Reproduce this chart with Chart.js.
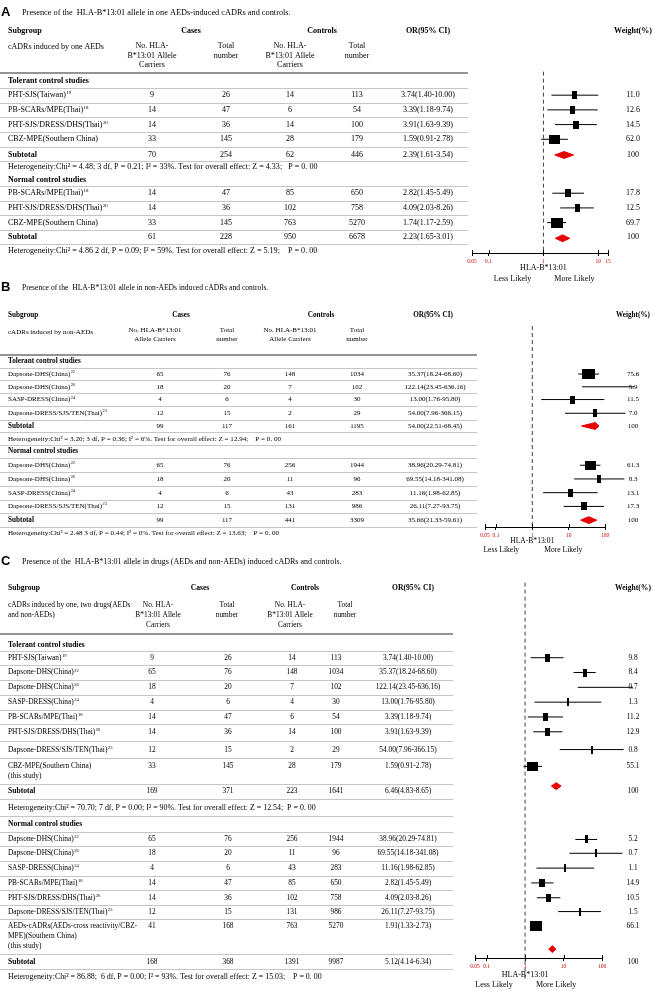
<!DOCTYPE html>
<html>
<head>
<meta charset="utf-8">
<script src="https://cdn.jsdelivr.net/npm/chart.js@4.4.1/dist/chart.umd.min.js"></script>
<style>
  body { margin: 0; background: #fff; }
  #wrap { position: relative; width: 653px; height: 991px; }
  canvas { position: absolute; left: 0; }
</style>
</head>
<body>
<div id="wrap">
  <canvas id="chartA" width="653" height="290" style="top:0px"></canvas>
  <canvas id="chartB" width="653" height="285" style="top:272px"></canvas>
  <canvas id="chartC" width="653" height="443" style="top:548px"></canvas>
</div>
<script>
// ---------- data ----------
const tickA = [0.05, 0.1, 1, 10, 15];
const tickBC = [0.05, 0.1, 1, 10, 100];

// A: one AEDs, tolerant controls
const aTolNames = ['PHT-SJS(Taiwan)', 'PB-SCARs/MPE(Thai)', 'PHT-SJS/DRESS/DHS(Thai)', 'CBZ-MPE(Southern China)'];
const aTolRefs = ['19', '18', '20', ''];
const aTolCases = [9, 14, 14, 33];
const aTolCasesTotal = [26, 47, 36, 145];
const aTolControls = [14, 6, 14, 28];
const aTolControlsTotal = [113, 54, 100, 179];
const aTolOR = [3.74, 3.39, 3.91, 1.59];
const aTolLow = [1.40, 1.18, 1.63, 0.91];
const aTolHigh = [10.00, 9.74, 9.39, 2.78];
const aTolWeight = [11.0, 12.6, 14.5, 62.0];
const aTolSubCounts = [70, 254, 62, 446];
const aTolSubOR = [2.39, 1.61, 3.54];
const aTolHet = 'Heterogeneity:Chi² = 4.48; 3 df, P = 0.21; I² = 33%. Test for overall effect: Z = 4.33;   P = 0. 00';

// A: one AEDs, normal controls
const aNorNames = ['PB-SCARs/MPE(Thai)', 'PHT-SJS/DRESS/DHS(Thai)', 'CBZ-MPE(Southern China)'];
const aNorRefs = ['18', '20', ''];
const aNorCases = [14, 14, 33];
const aNorCasesTotal = [47, 36, 145];
const aNorControls = [85, 102, 763];
const aNorControlsTotal = [650, 758, 5270];
const aNorOR = [2.82, 4.09, 1.74];
const aNorLow = [1.45, 2.03, 1.17];
const aNorHigh = [5.49, 8.26, 2.59];
const aNorWeight = [17.8, 12.5, 69.7];
const aNorSubCounts = [61, 228, 950, 6678];
const aNorSubOR = [2.23, 1.65, 3.01];
const aNorHet = 'Heterogeneity:Chi² = 4.86 2 df, P = 0.09; I² = 59%. Test for overall effect: Z = 5.19;    P = 0. 00';

// B: non-AEDs, tolerant controls
const bTolNames = ['Dapsone-DHS(China)', 'Dapsone-DHS(China)', 'SASP-DRESS(China)', 'Dapsone-DRESS/SJS/TEN(Thai)'];
const bTolRefs = ['22', '26', '24', '23'];
const bTolCases = [65, 18, 4, 12];
const bTolCasesTotal = [76, 20, 6, 15];
const bTolControls = [148, 7, 4, 2];
const bTolControlsTotal = [1034, 102, 30, 29];
const bTolOR = [35.37, 122.14, 13.00, 54.00];
const bTolLow = [18.24, 23.45, 1.76, 7.96];
const bTolHigh = [68.60, 636.16, 95.80, 366.15];
const bTolWeight = [75.6, 5.9, 11.5, 7.0];
const bTolSubCounts = [99, 117, 161, 1195];
const bTolSubOR = [54.00, 22.51, 68.45];
const bTolHet = 'Heterogeneity:Chi² = 3.20; 3 df, P = 0.36; I² = 6%. Test for overall effect: Z = 12.94;    P = 0. 00';

// B: non-AEDs, normal controls
const bNorNames = ['Dapsone-DHS(China)', 'Dapsone-DHS(China)', 'SASP-DRESS(China)', 'Dapsone-DRESS/SJS/TEN(Thai)'];
const bNorRefs = ['22', '26', '24', '23'];
const bNorCases = [65, 18, 4, 12];
const bNorCasesTotal = [76, 20, 6, 15];
const bNorControls = [256, 11, 43, 131];
const bNorControlsTotal = [1944, 96, 283, 986];
const bNorOR = [38.96, 69.55, 11.16, 26.11];
const bNorLow = [20.29, 14.18, 1.98, 7.27];
const bNorHigh = [74.81, 341.08, 62.85, 93.75];
const bNorWeight = [61.3, 8.3, 13.1, 17.3];
const bNorSubCounts = [99, 117, 441, 3309];
const bNorSubOR = [35.66, 21.33, 59.61];
const bNorHet = 'Heterogeneity:Chi² = 2.48 3 df, P = 0.44; I² = 0%. Test for overall effect: Z = 13.63;    P = 0. 00';

// C: all drugs, tolerant controls
const cTolNames = ['PHT-SJS(Taiwan)', 'Dapsone-DHS(China)', 'Dapsone-DHS(China)', 'SASP-DRESS(China)', 'PB-SCARs/MPE(Thai)',
  'PHT-SJS/DRESS/DHS(Thai)', 'Dapsone-DRESS/SJS/TEN(Thai)', 'CBZ-MPE(Southern China)\n(this study)'];
const cTolRefs = ['19', '22', '26', '24', '18', '20', '23', ''];
const cTolCases = [9, 65, 18, 4, 14, 14, 12, 33];
const cTolCasesTotal = [26, 76, 20, 6, 47, 36, 15, 145];
const cTolControls = [14, 148, 7, 4, 6, 14, 2, 28];
const cTolControlsTotal = [113, 1034, 102, 30, 54, 100, 29, 179];
const cTolOR = [3.74, 35.37, 122.14, 13.00, 3.39, 3.91, 54.00, 1.59];
const cTolLow = [1.40, 18.24, 23.45, 1.76, 1.18, 1.63, 7.96, 0.91];
const cTolHigh = [10.00, 68.60, 636.16, 95.80, 9.74, 9.39, 366.15, 2.78];
const cTolWeight = [9.8, 8.4, 0.7, 1.3, 11.2, 12.9, 0.8, 55.1];
const cTolSubCounts = [169, 371, 223, 1641];
const cTolSubOR = [6.46, 4.83, 8.65];
const cTolHet = 'Heterogeneity:Chi² = 70.70; 7 df, P = 0.00; I² = 90%. Test for overall effect: Z = 12.54;  P = 0. 00';

// C: all drugs, normal controls
const cNorNames = ['Dapsone-DHS(China)', 'Dapsone-DHS(China)', 'SASP-DRESS(China)', 'PB-SCARs/MPE(Thai)',
  'PHT-SJS/DRESS/DHS(Thai)', 'Dapsone-DRESS/SJS/TEN(Thai)', 'AEDs-cADRs(AEDs-cross reactivity/CBZ-\nMPE)(Southern China)\n(this study)'];
const cNorRefs = ['22', '26', '24', '18', '20', '23', ''];
const cNorCases = [65, 18, 4, 14, 14, 12, 41];
const cNorCasesTotal = [76, 20, 6, 47, 36, 15, 168];
const cNorControls = [256, 11, 43, 85, 102, 131, 763];
const cNorControlsTotal = [1944, 96, 283, 650, 758, 986, 5270];
const cNorOR = [38.96, 69.55, 11.16, 2.82, 4.09, 26.11, 1.91];
const cNorLow = [20.29, 14.18, 1.98, 1.45, 2.03, 7.27, 1.33];
const cNorHigh = [74.81, 341.08, 62.85, 5.49, 8.26, 93.75, 2.73];
const cNorWeight = [5.2, 0.7, 1.1, 14.9, 10.5, 1.5, 66.1];
const cNorSubCounts = [168, 368, 1391, 9987];
const cNorSubOR = [5.12, 4.14, 6.34];
const cNorHet = 'Heterogeneity:Chi² = 86.88;  6 df, P = 0.00; I² = 93%. Test for overall effect: Z = 15.03;    P = 0. 00';

function group(heading, names, refs, cases, casesTotal, controls, controlsTotal, or, low, high, weight, subCounts, subOR, het) {
  return { heading, names, refs, counts: [cases, casesTotal, controls, controlsTotal], or, low, high, weight, subCounts, subOR, het };
}
const TOL = 'Tolerant control studies', NOR = 'Normal control studies';
const groupsA = [
  group(TOL, aTolNames, aTolRefs, aTolCases, aTolCasesTotal, aTolControls, aTolControlsTotal, aTolOR, aTolLow, aTolHigh, aTolWeight, aTolSubCounts, aTolSubOR, aTolHet),
  group(NOR, aNorNames, aNorRefs, aNorCases, aNorCasesTotal, aNorControls, aNorControlsTotal, aNorOR, aNorLow, aNorHigh, aNorWeight, aNorSubCounts, aNorSubOR, aNorHet)
];
const groupsB = [
  group(TOL, bTolNames, bTolRefs, bTolCases, bTolCasesTotal, bTolControls, bTolControlsTotal, bTolOR, bTolLow, bTolHigh, bTolWeight, bTolSubCounts, bTolSubOR, bTolHet),
  group(NOR, bNorNames, bNorRefs, bNorCases, bNorCasesTotal, bNorControls, bNorControlsTotal, bNorOR, bNorLow, bNorHigh, bNorWeight, bNorSubCounts, bNorSubOR, bNorHet)
];
const groupsC = [
  group(TOL, cTolNames, cTolRefs, cTolCases, cTolCasesTotal, cTolControls, cTolControlsTotal, cTolOR, cTolLow, cTolHigh, cTolWeight, cTolSubCounts, cTolSubOR, cTolHet),
  group(NOR, cNorNames, cNorRefs, cNorCases, cNorCasesTotal, cNorControls, cNorControlsTotal, cNorOR, cNorLow, cNorHigh, cNorWeight, cNorSubCounts, cNorSubOR, cNorHet)
];

// ---------- layout (page pixel coordinates) ----------
const SERIF = '"Liberation Serif", "Times New Roman", serif';
const SANS = '"Liberation Sans", Arial, sans-serif';
const W = 653;
const NOHLA3 = ['No. HLA-', 'B*13:01 Allele', 'Carriers'];
const TOTAL = ['Total', 'number'];

const layoutA = {
  top: 0, height: 290, letter: 'A', titleY: 8, titleSize: 8.3,
  title: 'Presence of the  HLA-B*13:01 allele in one AEDs-induced cADRs and controls.',
  fs: 8, bs: 8, hs: 8.1, lh: 10, capSize: 8,
  headY: 26,
  head1: [['Subgroup', 8, 'left'], ['Cases', 191, 'center'], ['Controls', 322, 'center'], ['OR(95% CI)', 428, 'center'], ['Weight(%)', 633, 'center']],
  head2: [[['cADRs induced by one AEDs'], 8, 'left', 43], [NOHLA3, 152, 'center', 42], [TOTAL, 226, 'center', 42], [NOHLA3, 290, 'center', 42], [TOTAL, 357, 'center', 42]],
  head2lh: 9.5, headLineY: 69, lineEnd: 468, hetLines: false,
  cols: [152, 226, 290, 357], orX: 428, wX: 633,
  rowY: [77, 92, 107, 122, 137, 153, 165, 178, 192, 207, 222, 237, 251],
  diamondY: [153, 238], diamondH: 3.5,
  axisY: 253, dash: [68, 253], xLeft: 472, xRight: 608, xMax: 15, ticks: tickA,
  hlaY: 268, likelyY: 279
};
const layoutB = {
  top: 272, height: 285, letter: 'B', titleY: 283, titleSize: 7.6,
  title: 'Presence of the  HLA-B*13:01 allele in non-AEDs induced cADRs and controls.',
  fs: 7, bs: 7.2, hs: 7.1, lh: 9, capSize: 7.6,
  headY: 311,
  head1: [['Subgroup', 8, 'left'], ['Cases', 181, 'center'], ['Controls', 321, 'center'], ['OR(95% CI)', 433, 'center'], ['Weight(%)', 633, 'center']],
  head2: [[['cADRs induced by non-AEDs'], 8, 'left', 328], [['No. HLA-B*13:01', 'Allele Carriers'], 155, 'center', 326], [TOTAL, 227, 'center', 326],
    [['No. HLA-B*13:01', 'Allele Carriers'], 290, 'center', 326], [TOTAL, 357, 'center', 326]],
  head2lh: 9, headLineY: 352, lineEnd: 477, hetLines: true,
  cols: [160, 227, 290, 357], orX: 435, wX: 633,
  rowY: [358, 371, 384, 397, 411, 424, 437, 450, 464, 478, 492, 506, 520, 533],
  diamondY: [424, 520], diamondH: 3.5,
  axisY: 527, dash: [322, 527], xLeft: 485, xRight: 605, xMax: 100, ticks: tickBC,
  hlaY: 541, likelyY: 550
};
const layoutC = {
  top: 548, height: 443, letter: 'C', titleY: 557, titleSize: 8,
  title: 'Presence of the  HLA-B*13:01 allele in drugs (AEDs and non-AEDs) induced cADRs and controls.',
  fs: 7.4, bs: 7.6, hs: 7.9, lh: 10, capSize: 8,
  headY: 583,
  head1: [['Subgroup', 8, 'left'], ['Cases', 200, 'center'], ['Controls', 305, 'center'], ['OR(95% CI)', 413, 'center'], ['Weight(%)', 633, 'center']],
  head2: [[['cADRs induced by one, two drugs(AEDs', 'and non-AEDs)'], 8, 'left', 601], [NOHLA3, 158, 'center', 601], [TOTAL, 227, 'center', 601],
    [NOHLA3, 290, 'center', 601], [TOTAL, 345, 'center', 601]],
  head2lh: 10, headLineY: 630, lineEnd: 453, hetLines: true,
  cols: [152, 228, 292, 336], orX: 408, wX: 633,
  rowY: [641, 654, 669, 684, 699, 714, 729, 747, 764, 789, 806, 822, 838, 852, 867, 882, 897, 911, 926, 962, 977],
  diamondY: [784, 949], diamondH: 3.5,
  axisY: 958, dash: [578, 980], xLeft: 475, xRight: 602, xMax: 100, ticks: tickBC,
  hlaY: 975, likelyY: 985
};

// ---------- drawing ----------
function box(weight) {
  const c = document.createElement('canvas');
  c.width = Math.max(2, Math.round(1.45 * Math.sqrt(weight)));
  c.height = Math.max(8, Math.round(1.2 * Math.sqrt(weight)));
  const g = c.getContext('2d');
  g.fillStyle = '#000';
  g.fillRect(0, 0, c.width, c.height);
  return c;
}

function orText(or, lo, hi) {
  return or.toFixed(2) + '(' + lo.toFixed(2) + '-' + hi.toFixed(2) + ')';
}

function drawTable(chart, L, rows) {
  const ctx = chart.ctx, xs = chart.scales.x, ys = chart.scales.y;
  const Y = v => ys.getPixelForValue(v);
  const font = (size, bold, fam) => (bold ? 'bold ' : '') + size + 'px ' + (fam || SERIF);
  const text = (s, x, y, align) => { ctx.textAlign = align || 'left'; ctx.fillText(s, x, Y(y)); };
  const hline = (x0, x1, py) => { ctx.beginPath(); ctx.moveTo(x0, py); ctx.lineTo(x1, py); ctx.stroke(); };

  ctx.save();
  ctx.fillStyle = '#000';
  ctx.textBaseline = 'middle';

  ctx.font = font(13, true, SANS);
  text(L.letter, 1, L.titleY);
  ctx.font = font(L.titleSize);
  text(L.title, 22, L.titleY);

  ctx.font = font(L.bs, true);
  L.head1.forEach(([s, x, a]) => text(s, x, L.headY, a));
  ctx.font = font(L.fs);
  L.head2.forEach(([lines, x, a, y0]) => lines.forEach((s, j) => text(s, x, y0 + j * L.head2lh, a)));

  ctx.strokeStyle = '#707070';
  ctx.lineWidth = 1.5;
  hline(0, L.lineEnd, Math.round(Y(L.headLineY)));

  ctx.strokeStyle = '#c6c6c6';
  ctx.lineWidth = 1;
  for (let i = 0; i < rows.length - 1; i++) {
    const a = rows[i], b = rows[i + 1];
    if (!L.hetLines && a.kind === 'het') continue;
    const bottom = a.y + (a.lines - 1) * L.lh;
    hline(0, L.lineEnd, Math.round(Y((bottom + b.y) / 2)) + 0.5);
  }

  rows.forEach(r => {
    const g = r.g;
    if (r.kind === 'heading') {
      ctx.font = font(L.bs, true);
      text(g.heading, 8, r.y);
    } else if (r.kind === 'study') {
      ctx.font = font(L.fs);
      const lines = g.names[r.i].split('\n');
      lines.forEach((s, j) => text(s, 8, r.y + j * L.lh));
      if (g.refs[r.i]) {
        const w = ctx.measureText(lines[0]).width;
        ctx.font = font(L.fs * 0.62);
        text(g.refs[r.i], 8.5 + w, r.y - L.fs * 0.3);
        ctx.font = font(L.fs);
      }
      g.counts.forEach((arr, c) => text(String(arr[r.i]), L.cols[c], r.y, 'center'));
      text(orText(g.or[r.i], g.low[r.i], g.high[r.i]), L.orX, r.y, 'center');
      text(g.weight[r.i].toFixed(1), L.wX, r.y, 'center');
    } else if (r.kind === 'subtotal') {
      ctx.font = font(L.bs, true);
      text('Subtotal', 8, r.y);
      ctx.font = font(L.fs);
      g.subCounts.forEach((v, c) => text(String(v), L.cols[c], r.y, 'center'));
      text(orText(g.subOR[0], g.subOR[1], g.subOR[2]), L.orX, r.y, 'center');
      text('100', L.wX, r.y, 'center');
    } else {
      ctx.font = font(L.hs);
      text(g.het, 8, r.y);
    }
  });

  // upper half of the axis tick marks
  ctx.strokeStyle = '#000';
  const ay = Y(L.axisY);
  xs.ticks.forEach(t => {
    const px = Math.round(xs.getPixelForValue(t.value)) + 0.5;
    ctx.beginPath(); ctx.moveTo(px, ay - 3); ctx.lineTo(px, ay); ctx.stroke();
  });

  const x1 = xs.getPixelForValue(1);
  ctx.font = font(L.capSize);
  text('HLA-B*13:01', x1, L.hlaY, 'center');
  text('Less Likely', x1 - 31, L.likelyY, 'center');
  text('More Likely', x1 + 31, L.likelyY, 'center');
  ctx.restore();
}

function makePanel(id, L, groups) {
  const rows = [];
  let k = 0;
  groups.forEach((g, gi) => {
    rows.push({ kind: 'heading', g, lines: 1, y: L.rowY[k++] });
    g.names.forEach((n, i) => rows.push({ kind: 'study', g, i, lines: n.split('\n').length, y: L.rowY[k++] }));
    rows.push({ kind: 'subtotal', g, gi, lines: 1, y: L.rowY[k++] });
    rows.push({ kind: 'het', g, lines: 1, y: L.rowY[k++] });
  });
  const studies = rows.filter(r => r.kind === 'study');
  const boxes = studies.map(r => box(r.g.weight[r.i]));

  const datasets = [{
    data: [{ x: 1, y: L.dash[0] }, { x: 1, y: L.dash[1] }],
    showLine: true, borderColor: '#444', borderWidth: 1, borderDash: [4, 3], pointRadius: 0, clip: false, order: 5
  }];
  studies.forEach(r => datasets.push({
    data: [{ x: r.g.low[r.i], y: r.y }, { x: r.g.high[r.i], y: r.y }],
    showLine: true, borderColor: '#000', borderWidth: 1, pointRadius: 0, clip: false, order: 4
  }));
  datasets.push({
    data: studies.map(r => ({ x: r.g.or[r.i], y: r.y })),
    pointStyle: c => boxes[c.dataIndex], pointRadius: 4, order: 1
  });
  rows.filter(r => r.kind === 'subtotal').forEach(r => {
    const [or, lo, hi] = r.g.subOR;
    const y = L.diamondY[r.gi], h = L.diamondH;
    datasets.push({
      data: [{ x: lo, y }, { x: or, y: y - h }, { x: hi, y }, { x: or, y: y + h }, { x: lo, y }],
      showLine: true, fill: 'shape', borderColor: '#e60000', backgroundColor: '#e60000',
      borderWidth: 1, pointRadius: 0, order: 2
    });
  });

  return new Chart(document.getElementById(id), {
    type: 'scatter',
    data: { datasets },
    options: {
      responsive: false,
      animation: false,
      events: [],
      layout: { padding: { left: L.xLeft, right: W - L.xRight, top: 0, bottom: 0 } },
      plugins: { legend: { display: false }, tooltip: { enabled: false } },
      scales: {
        x: {
          type: 'logarithmic',
          min: 0.05,
          max: L.xMax,
          afterBuildTicks: s => { s.ticks = L.ticks.map(v => ({ value: v })); },
          afterFit: s => { s.height = L.top + L.height - L.axisY; },
          ticks: {
            color: '#d40000', font: { family: SERIF, size: 5.5 }, padding: 2,
            autoSkip: false, maxRotation: 0, callback: v => String(v)
          },
          grid: { drawOnChartArea: false, color: '#000', tickLength: 3 },
          border: { color: '#000', width: 1 }
        },
        y: { type: 'linear', display: false, reverse: true, min: L.top, max: L.axisY }
      }
    },
    plugins: [{ id: 'table', afterDraw: c => drawTable(c, L, rows) }]
  });
}

makePanel('chartA', layoutA, groupsA);
makePanel('chartB', layoutB, groupsB);
makePanel('chartC', layoutC, groupsC);
</script>
</body>
</html>
